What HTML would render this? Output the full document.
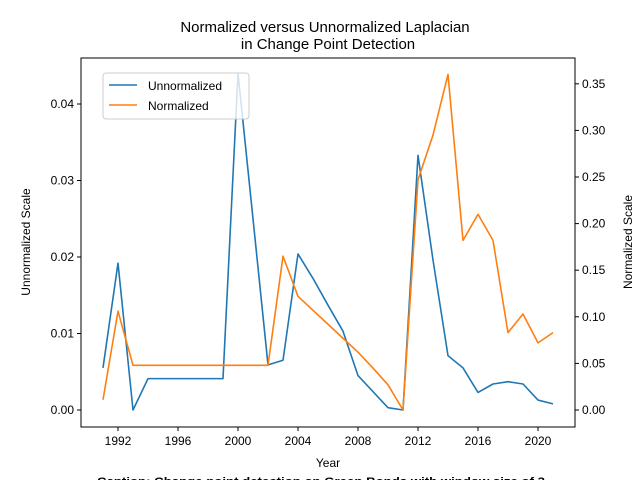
<!DOCTYPE html>
<html><head><meta charset="utf-8"><style>body{margin:0;background:#fff}svg{display:block;font-family:"Liberation Sans","DejaVu Sans",sans-serif}</style></head>
<body>
<svg id="c" width="640" height="480"></svg>
<script>
const years=[1991,1992,1993,1994,1995,1996,1997,1998,1999,2000,2001,2002,2003,2004,2005,2006,2007,2008,2009,2010,2011,2012,2013,2014,2015,2016,2017,2018,2019,2020,2021];
const unnormalized=[0.0055,0.0192,0.0,0.0041,0.0041,0.0041,0.0041,0.0041,0.0041,0.044,0.025,0.0059,0.0065,0.0204,0.0172,0.0137,0.0103,0.0045,0.0024,0.0003,0.0,0.0333,0.0196,0.0071,0.0055,0.0023,0.0034,0.0037,0.0034,0.0013,0.0008];
const normalized=[0.011,0.106,0.048,0.048,0.048,0.048,0.048,0.048,0.048,0.048,0.048,0.048,0.165,0.122,0.107,0.092,0.077,0.062,0.045,0.027,0.0,0.247,0.295,0.36,0.182,0.21,0.182,0.083,0.103,0.072,0.083];
const xTicks=[1992,1996,2000,2004,2008,2012,2016,2020];
const leftTicks=[0,0.01,0.02,0.03,0.04];
const rightTicks=[0,0.05,0.1,0.15,0.2,0.25,0.3,0.35];
const L=81,R=575,T=58,B=427;
const x=v=>118+(v-1992)*15;
const yl=v=>410-v*7650;
const yr=v=>410-v*932;
const s=document.getElementById('c');const NS='http://www.w3.org/2000/svg';
function el(t,a,txt){const e=document.createElementNS(NS,t);for(const k in a)e.setAttribute(k,a[k]);if(txt!=null)e.textContent=txt;s.appendChild(e);return e;}
let e;
e=el('text',{x:325,y:32,'text-anchor':'middle','font-size':15},'Normalized versus Unnormalized Laplacian');


e=el('text',{x:328,y:49,'text-anchor':'middle','font-size':15},'in Change Point Detection');


xTicks.forEach(v=>{el('line',{x1:x(v),x2:x(v),y1:B,y2:B+4,stroke:'#000'});
e=el('text',{x:x(v),y:B+18,'text-anchor':'middle','font-size':12},String(v));

});
leftTicks.forEach(v=>{el('line',{x1:L-4,x2:L,y1:yl(v),y2:yl(v),stroke:'#000'});
e=el('text',{x:L-7,y:yl(v)+4,'text-anchor':'end','font-size':12},v.toFixed(2));

});
rightTicks.forEach(v=>{el('line',{x1:R,x2:R+4,y1:yr(v),y2:yr(v),stroke:'#000'});
e=el('text',{x:R+7,y:yr(v)+4,'font-size':12},v.toFixed(2));

});
function line(vals,f,c,name){e=el('polyline',{points:vals.map((v,i)=>x(years[i])+','+f(v)).join(' '),fill:'none',stroke:c,'stroke-width':1.6,'stroke-linejoin':'round'});

}
line(unnormalized,yl,'#1f77b4','unnormalized-line');
line(normalized,yr,'#ff7f0e','normalized-line');
e=el('rect',{x:L,y:T,width:R-L,height:B-T,fill:'none',stroke:'#000','stroke-width':1});


e=el('text',{x:328,y:467,'text-anchor':'middle','font-size':12},'Year');


e=el('text',{x:30,y:242,'text-anchor':'middle','font-size':12,transform:'rotate(-90 30 242)'},'Unnormalized Scale');


e=el('text',{x:632,y:242,'text-anchor':'middle','font-size':12,transform:'rotate(-90 632 242)'},'Normalized Scale');


e=el('rect',{x:103,y:73,width:146,height:46,fill:'#fff','fill-opacity':0.8,stroke:'#ccc',rx:3});


el('line',{x1:109,x2:137,y1:85,y2:85,stroke:'#1f77b4','stroke-width':1.6});
e=el('text',{x:148,y:90,'font-size':12},'Unnormalized');


el('line',{x1:109,x2:137,y1:105,y2:105,stroke:'#ff7f0e','stroke-width':1.6});
e=el('text',{x:148,y:110,'font-size':12},'Normalized');


e=el('text',{x:97,y:485,'font-size':11,'font-weight':'bold',textLength:448,lengthAdjust:'spacingAndGlyphs'},'Caption: Change point detection on Green Bonds with window size of 3');


</script>
</body></html>
